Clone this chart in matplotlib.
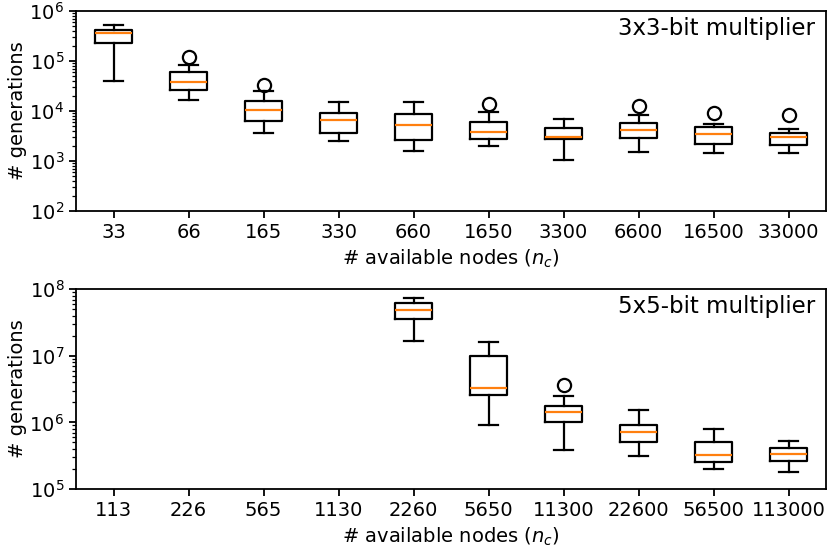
import matplotlib
matplotlib.use("Agg")
import matplotlib.pyplot as plt

# 3x3-bit multiplier
nodes_3 = ["33", "66", "165", "330", "660", "1650", "3300", "6600", "16500", "33000"]
whislo_3 = [4.0e4, 1.66e4, 3.7e3, 2.5e3, 1.56e3, 1.97e3, 1.06e3, 1.49e3, 1.47e3, 1.47e3]
q1_3 = [2.3e5, 2.7e4, 6.3e3, 3.6e3, 2.7e3, 2.75e3, 2.75e3, 2.84e3, 2.19e3, 2.06e3]
med_3 = [3.6e5, 3.8e4, 1.06e4, 6.7e3, 5.3e3, 3.9e3, 3.07e3, 4.2e3, 3.47e3, 3.07e3]
q3_3 = [4.2e5, 6.1e4, 1.56e4, 9.0e3, 8.6e3, 6.0e3, 4.5e3, 5.9e3, 4.8e3, 3.63e3]
whishi_3 = [5.2e5, 8.3e4, 2.55e4, 1.54e4, 1.54e4, 9.7e3, 6.8e3, 8.3e3, 5.5e3, 4.37e3]
fliers_3 = [[], [1.18e5], [3.4e4], [], [], [1.36e4], [], [1.26e4], [9.1e3], [8.3e3]]

# 5x5-bit multiplier (no runs finished for the first four settings)
nodes_5 = ["113", "226", "565", "1130", "2260", "5650", "11300", "22600", "56500", "113000"]
pos_5 = [5, 6, 7, 8, 9, 10]
whislo_5 = [1.64e7, 9.2e5, 3.85e5, 3.16e5, 2.02e5, 1.8e5]
q1_5 = [3.6e7, 2.57e6, 1.02e6, 5.0e5, 2.54e5, 2.63e5]
med_5 = [4.9e7, 3.24e6, 1.45e6, 7.2e5, 3.2e5, 3.39e5]
q3_5 = [6.3e7, 1.01e7, 1.76e6, 9.3e5, 5.0e5, 4.07e5]
whishi_5 = [7.5e7, 1.62e7, 2.5e6, 1.55e6, 8.0e5, 5.3e5]
fliers_5 = [[], [], [3.6e6], [], [], []]

FS = 14


def stats(lo, q1, med, q3, hi, fl):
    return [dict(whislo=a, q1=b, med=c, q3=d, whishi=e, fliers=f)
            for a, b, c, d, e, f in zip(lo, q1, med, q3, hi, fl)]


def panel(ax, st, pos, labels, ylim, title):
    lw = 1.6
    ax.bxp(st, positions=pos, widths=0.5,
           boxprops=dict(linewidth=lw, color="black"),
           whiskerprops=dict(linewidth=lw, color="black"),
           capprops=dict(linewidth=lw, color="black"),
           medianprops=dict(linewidth=lw, color="#ff7f0e"),
           flierprops=dict(marker="o", markersize=9.5, markerfacecolor="none",
                           markeredgecolor="black", markeredgewidth=1.6))
    ax.set_yscale("log")
    ax.set_ylim(*ylim)
    ax.set_xlim(0.5, 10.5)
    ax.set_xticks(range(1, 11))
    ax.set_xticklabels(labels)
    ax.tick_params(labelsize=FS, width=1.3, length=5)
    ax.tick_params(which="minor", width=0.9, length=3)
    for s in ax.spines.values():
        s.set_linewidth(1.3)
    ax.set_xlabel("# available nodes ($n_c$)", fontsize=FS, labelpad=4)
    ax.set_ylabel("# generations", fontsize=FS, labelpad=2)
    ax.text(0.985, 0.97, title, transform=ax.transAxes, ha="right", va="top",
            fontsize=16.5)


fig = plt.figure(figsize=(8.3, 5.54), dpi=100)
ax1 = fig.add_axes([0.0916, 0.619, 0.9036, 0.361])
ax2 = fig.add_axes([0.0916, 0.1173, 0.9036, 0.3607])

panel(ax1, stats(whislo_3, q1_3, med_3, q3_3, whishi_3, fliers_3),
      list(range(1, 11)), nodes_3, (1e2, 1e6), "3x3-bit multiplier")
panel(ax2, stats(whislo_5, q1_5, med_5, q3_5, whishi_5, fliers_5),
      pos_5, nodes_5, (1e5, 1e8), "5x5-bit multiplier")

fig.savefig("out.png", dpi=100)
